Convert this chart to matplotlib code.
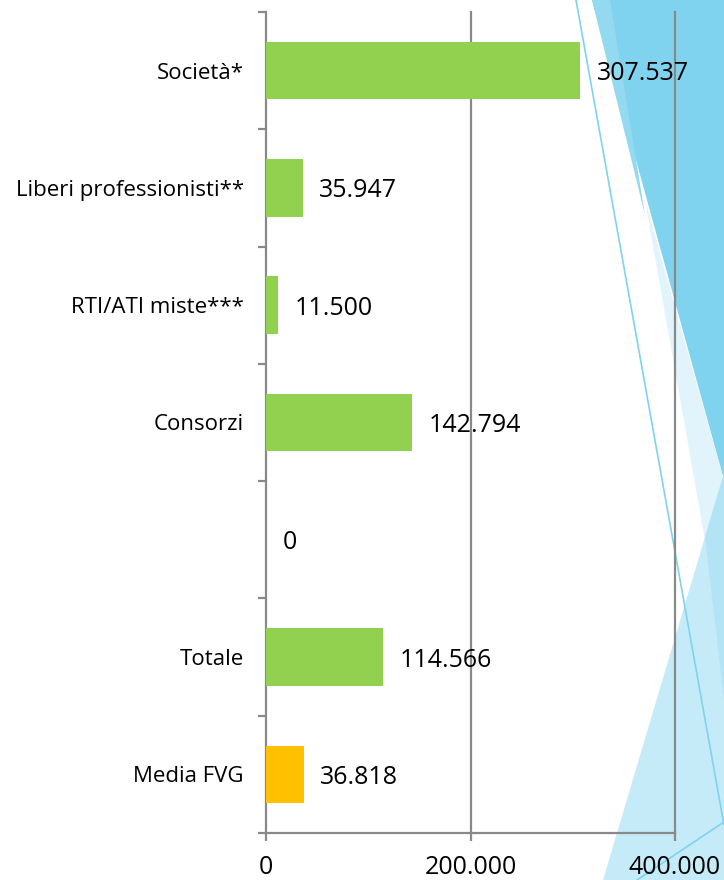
import matplotlib
matplotlib.use("Agg")
import matplotlib.pyplot as plt
from matplotlib.patches import Polygon
from matplotlib.lines import Line2D
import numpy as np

# ── DATA ───────────────────────────────────────────────────────────────────────
categories = ["Società*", "Liberi professionisti**", "RTI/ATI miste***",
              "Consorzi", "", "Totale", "Media FVG"]
values = [307537, 35947, 11500, 142794, 0, 114566, 36818]
bar_colours = ["#92D050", "#92D050", "#92D050", "#92D050", "#92D050",
               "#92D050", "#FFC000"]
x_ticks = [0, 200000, 400000]


def fmt_it(v):
    return f"{v:,.0f}".replace(",", ".")


W, H = 724, 880
fig = plt.figure(figsize=(W / 100, H / 100), dpi=100)

# ── background decoration (slide theme triangles) ─────────────────────────────
def px(pts):
    return [(x / W, 1 - y / H) for x, y in pts]

decor = [
    ([(592, 0), (724, 0), (724, 480)], "#7FD3EE"),
    ([(592, 0), (610, 0), (645, 215)], "#93DAF1"),
    ([(645, 200), (724, 480), (705, 540)], "#E1F4FB"),
    ([(603, 880), (724, 473), (724, 880)], "#C6EBF8"),
    ([(705, 537), (724, 473), (724, 700)], "#B3E4F5"),
]
for pts, c in decor:
    fig.add_artist(Polygon(px(pts), closed=True, transform=fig.transFigure,
                           facecolor=c, edgecolor="none", zorder=-2))
for (x0, y0), (x1, y1) in [((576, 0), (724, 825)), ((637, 880), (724, 822))]:
    (a, b), (c, d) = px([(x0, y0), (x1, y1)])
    fig.add_artist(Line2D([a, c], [b, d], transform=fig.transFigure,
                          color="#7FD3EE", lw=1.2, zorder=-1))

# ── chart ─────────────────────────────────────────────────────────────────────
ax = fig.add_axes([266 / W, 1 - 833 / H, (675 - 266) / W, (833 - 12) / H])
ax.set_facecolor("none")

y = np.arange(len(categories))
ax.barh(y, values, height=0.49, color=bar_colours, zorder=3)
ax.set_xlim(0, 400000)
ax.set_ylim(len(categories) - 0.5, -0.5)

grey = "#898989"
for s in ["top", "right"]:
    ax.spines[s].set_visible(False)
for s in ["left", "bottom"]:
    ax.spines[s].set_color(grey)
    ax.spines[s].set_linewidth(1.6)

ax.set_xticks(x_ticks)
ax.set_xticklabels([fmt_it(v) for v in x_ticks], fontsize=18, family="Open Sans")
ax.tick_params(axis="x", length=6, width=1.6, color=grey, pad=10)
for v in x_ticks[1:]:
    ax.axvline(v, color=grey, lw=1.6, zorder=1, clip_on=False)

ax.set_yticks(y)
ax.set_yticklabels(categories, fontsize=16, family="Open Sans")
ax.tick_params(axis="y", which="major", length=0, pad=16)
ax.set_yticks(np.arange(-0.5, len(categories)), minor=True)
ax.tick_params(axis="y", which="minor", length=6, width=1.6, color=grey)

for yi, v in zip(y, values):
    ax.annotate(fmt_it(v), (v, yi), xytext=(12, 0), textcoords="offset points",
                va="center_baseline", ha="left", fontsize=18,
                family="Open Sans", zorder=4)

plt.savefig("out.png", dpi=100)
